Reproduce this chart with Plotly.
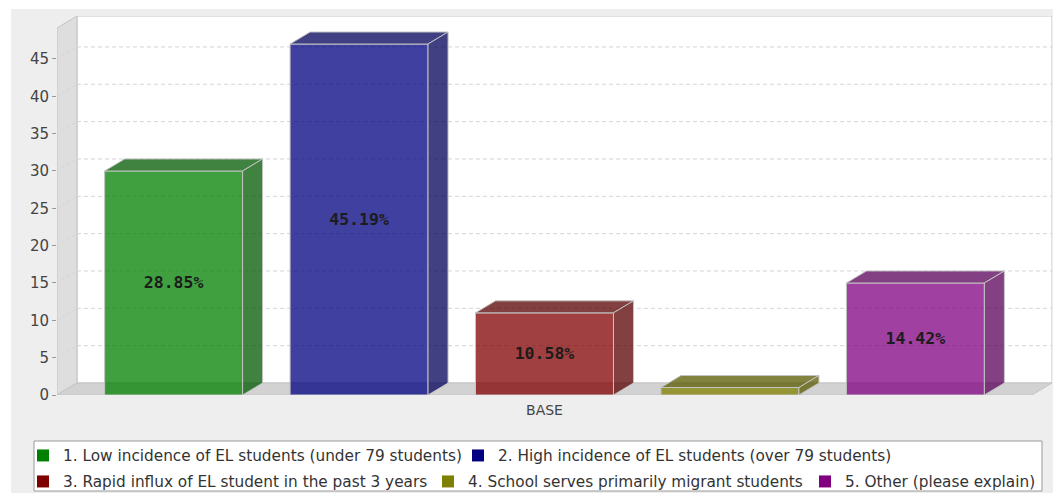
import plotly.graph_objects as go

# ---- data -------------------------------------------------------------
category = "BASE"
series = [
    "1. Low incidence of EL students (under 79 students)",
    "2. High incidence of EL students (over 79 students)",
    "3. Rapid influx of EL student in the past 3 years",
    "4. School serves primarily migrant students",
    "5. Other (please explain)",
]
counts = [30, 47, 11, 1, 15]
y_ticks = [0, 5, 10, 15, 20, 25, 30, 35, 40, 45]

# ---- styling ----------------------------------------------------------
base_rgb = [(0, 128, 0), (0, 0, 128), (128, 0, 0), (128, 128, 0), (128, 0, 128)]
alpha = 0.75
W, H = 1053, 493
ML, MR, MT, MB = 57, 1, 16, 98
plot_w, plot_h = W - ML - MR, H - MT - MB
front_w = 975          # pixel width of the front plane of the category axis
depth_x, depth_y = 20, 12   # 3D depth offset in pixels
y_top = 50.75
bargap, bargroupgap = 0.049, 0.256

# legend layout (pixel positions of each entry's swatch start and row centre)
legend_swatch_x = [38, 473, 38, 443, 820]
legend_row_y = [456, 456, 482, 482, 482]
legend_box = (34, 441, 1042, 491)

x_lo = -0.5
x_hi = x_lo + plot_w / front_w
dx = depth_x / front_w
dy = depth_y / (plot_h / y_top)

total = sum(counts)
labels = [f"{c / total * 100:.2f}%" for c in counts]


def rgba(rgb, a):
    return f"rgba({rgb[0]},{rgb[1]},{rgb[2]},{a})"


def darker(rgb, f=0.7):
    return tuple(int(v * f) for v in rgb)


def px_to_paper_x(px):
    return (px - ML) / plot_w


def px_to_paper_y(py):
    return (MT + plot_h - py) / plot_h


n = len(series)
slot = (1 - bargap) / n
bar_w = slot * (1 - bargroupgap)
offsets = [-(1 - bargap) / 2 + i * slot + slot * bargroupgap / 2 for i in range(n)]

edge = "rgb(196,196,196)"
fig = go.Figure()

# front faces of the bars
for i in range(n):
    fig.add_trace(go.Bar(
        x=[0], y=[counts[i]], width=[bar_w], offset=[offsets[i]],
        marker=dict(color=rgba(base_rgb[i], alpha), line=dict(color=edge, width=1)),
        text=[labels[i]], textposition="inside", insidetextanchor="middle",
        textangle=0,
        textfont=dict(family="DejaVu Sans Mono", size=16.5, color="#1c1c1c", weight="bold"),
        showlegend=False, hoverinfo="skip",
    ))

# legend entries with solid swatches, one legend per entry
legend_names = ["legend"] + [f"legend{k}" for k in range(2, n + 1)]
for i in range(n):
    fig.add_trace(go.Bar(
        x=[None], y=[None], name=series[i],
        marker=dict(color=rgba(base_rgb[i], 1), line=dict(width=0)),
        showlegend=True, hoverinfo="skip", legend=legend_names[i],
    ))

shapes = []
# chart background panel
shapes.append(dict(type="rect", xref="paper", yref="paper", layer="below",
                   x0=px_to_paper_x(11), x1=px_to_paper_x(W),
                   y0=px_to_paper_y(H), y1=px_to_paper_y(9),
                   fillcolor="#eeeeee", line=dict(width=0)))
# legend frame
shapes.append(dict(type="rect", xref="paper", yref="paper", layer="below",
                   x0=px_to_paper_x(legend_box[0]), x1=px_to_paper_x(legend_box[2]),
                   y0=px_to_paper_y(legend_box[3]), y1=px_to_paper_y(legend_box[1]),
                   fillcolor="white", line=dict(color="#9a9a9a", width=1)))
# back wall
shapes.append(dict(type="rect", xref="x", yref="y", layer="below",
                   x0=x_lo + dx, x1=x_hi, y0=dy, y1=y_top,
                   fillcolor="white", line=dict(color=edge, width=1)))
# left wall
shapes.append(dict(type="path", xref="x", yref="y", layer="below",
                   path=f"M{x_lo},0 L{x_lo + dx},{dy} L{x_lo + dx},{y_top} L{x_lo},{y_top - dy} Z",
                   fillcolor="#dedede", line=dict(color=edge, width=1)))
# floor
shapes.append(dict(type="path", xref="x", yref="y", layer="below",
                   path=f"M{x_lo},0 L{x_hi - dx},0 L{x_hi},{dy} L{x_lo + dx},{dy} Z",
                   fillcolor="#d2d2d2", line=dict(color=edge, width=1)))
# dashed gridlines on the back and left walls
for v in y_ticks[1:]:
    shapes.append(dict(type="line", xref="x", yref="y", layer="below",
                       x0=x_lo + dx, x1=x_hi, y0=v + dy, y1=v + dy,
                       line=dict(color="#d4d4d4", width=1, dash="4px,3px")))
    shapes.append(dict(type="line", xref="x", yref="y", layer="below",
                       x0=x_lo, x1=x_lo + dx, y0=v, y1=v + dy,
                       line=dict(color="#d4d4d4", width=1, dash="3px,3px")))
# top and side faces of the bars
for i in range(n):
    xl = offsets[i]
    xr = offsets[i] + bar_w
    v = counts[i]
    face = rgba(darker(base_rgb[i]), alpha)
    shapes.append(dict(type="path", xref="x", yref="y", layer="above",
                       path=f"M{xl},{v} L{xl + dx},{v + dy} L{xr + dx},{v + dy} L{xr},{v} Z",
                       fillcolor=face, line=dict(color=edge, width=1)))
    shapes.append(dict(type="path", xref="x", yref="y", layer="above",
                       path=f"M{xr},0 L{xr + dx},{dy} L{xr + dx},{v + dy} L{xr},{v} Z",
                       fillcolor=face, line=dict(color=edge, width=1)))

layout_legends = {}
for i, name in enumerate(legend_names):
    layout_legends[name] = dict(
        orientation="h",
        x=px_to_paper_x(legend_swatch_x[i] - 15), xanchor="left",
        y=px_to_paper_y(legend_row_y[i] - 17), yanchor="top",
        bgcolor="rgba(0,0,0,0)", borderwidth=0,
        font=dict(family="DejaVu Sans", size=15.3, color="#333333"),
    )

fig.update_layout(
    width=W, height=H,
    margin=dict(l=ML, r=MR, t=MT, b=MB, autoexpand=False),
    paper_bgcolor="white", plot_bgcolor="rgba(0,0,0,0)",
    barmode="overlay",
    shapes=shapes,
    uniformtext=dict(mode="hide", minsize=14),
    font=dict(family="DejaVu Sans", size=15, color="#444444"),
    xaxis=dict(range=[x_lo, x_hi], tickvals=[0], ticktext=[category],
               showgrid=False, zeroline=False, showline=False, ticks="",
               ticklabelstandoff=5,
               tickfont=dict(size=14, color="#444444"), fixedrange=True),
    yaxis=dict(range=[0, y_top], tickvals=y_ticks, showgrid=False, zeroline=False,
               showline=False, ticks="outside", ticklen=4, tickcolor="#999999",
               tickfont=dict(size=15, color="#444444"), fixedrange=True),
    **layout_legends,
)

fig.write_html("out.html")
